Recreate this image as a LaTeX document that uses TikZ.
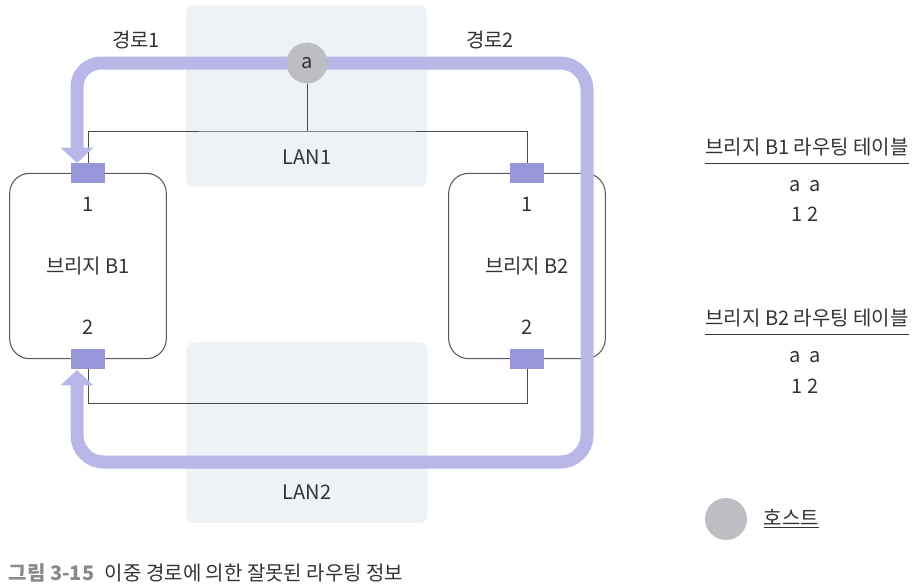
\documentclass[tikz,border=0pt]{standalone}
\usepackage{fontspec}
\setmainfont{Noto Sans CJK KR}
\usetikzlibrary{arrows.meta,positioning}

\definecolor{routeclr}{HTML}{B8B7E7}
\definecolor{portclr}{HTML}{9696D9}
\definecolor{lanbg}{HTML}{EEF2F7}
\definecolor{hostclr}{HTML}{BDBEC2}
\definecolor{txtclr}{HTML}{333333}
\definecolor{capclr}{HTML}{8A8A8A}

\begin{document}
\begin{tikzpicture}[
    x=0.75pt, y=-0.75pt,
    font=\fontsize{15pt}{18pt}\selectfont, text=txtclr,
    lanbox/.style={rectangle, rounded corners=6pt, fill=lanbg,
      minimum width=181pt, minimum height=136pt},
    bridge/.style={rectangle, rounded corners=15pt, draw=black!65,
      line width=0.8pt, minimum width=117.5pt, minimum height=139pt},
    port/.style={rectangle, fill=portclr, inner sep=0pt,
      minimum width=25.5pt, minimum height=15pt},
    host/.style={circle, fill=hostclr, inner sep=0pt, minimum size=30.5pt},
    lanline/.style={draw=black!70, line width=0.6pt},
    rule/.style={draw=black!80, line width=0.7pt},
    route/.style={draw=routeclr, line width=9.75pt, rounded corners=18pt,
      -{Triangle[length=11.5pt, width=24pt, fill=routeclr]}},
    tabtitle/.style={inner sep=0pt, minimum width=153pt, minimum height=24pt}
  ]
    \useasboundingbox (0,0) rectangle (916,587);

    % LAN areas
    \node[lanbox] (lan1) at (306.5,96) {};
    \node[lanbox] (lan2) at (307,432.5) {};
    \node (lan1lbl) at (307,157) {LAN1};
    \node (lan2lbl) at (307,492) {LAN2};

    % bridges
    \node[bridge] (b1) at (88,266) {브리지 B1};
    \node[bridge] (b2) at (527,266) {브리지 B2};
    \node[port] (p11) at (88,173) {};
    \node[port] (p12) at (88,359) {};
    \node[port] (p21) at (527,173) {};
    \node[port] (p22) at (527,359) {};
    \node (p11lbl) at (88,204) {1};
    \node (p12lbl) at (88,327) {2};
    \node (p21lbl) at (527,204) {1};
    \node (p22lbl) at (527,327) {2};

    % LAN wiring
    \node[host] (a) at (307,63) {};
    \coordinate (bus1) at (307,131);
    \coordinate (bus2) at (307,403);
    \draw[lanline] (a) -- (bus1);
    \draw[lanline] (p11.north) |- (bus1) -| (p21.north);
    \draw[lanline] (p12.south) |- (bus2) -| (p22.south);

    % forwarding paths
    \coordinate (r1end) at (77,163);
    \coordinate (r2turn) at (587,462);
    \coordinate (r2end) at (77,370);
    \draw[route] (a.center) -| (r1end);
    \draw[route, rounded corners=20pt] (a.center) -| (r2turn) -| (r2end);
    \node[host] (a) at (307,63) {a};

    \node (r1lbl) at (136,40) {경로1};
    \node (r2lbl) at (490,40) {경로2};

    % routing tables
    \node[tabtitle] (t1) at (807,147) {브리지 B1 라우팅 테이블};
    \draw[rule] (t1.south west) -- (t1.south east);
    \node (t1r1) at (805,186) {a\ \ a};
    \node (t1r2) at (805,214) {1 2};

    \node[tabtitle] (t2) at (807,318) {브리지 B2 라우팅 테이블};
    \draw[rule] (t2.south west) -- (t2.south east);
    \node (t2r1) at (805,357) {a\ \ a};
    \node (t2r2) at (805,386) {1 2};

    % legend
    \node[host, minimum size=31.5pt] (leg) at (726,519) {};
    \node[right=9pt of leg] (leglbl) {\underline{호스트}};

    % caption
    \node[anchor=west] (cap) at (4,573) {{\color{capclr}\bfseries 그림 3-15}\hspace{8pt}이중 경로에 의한 잘못된 라우팅 정보};
  \end{tikzpicture}
\end{document}
